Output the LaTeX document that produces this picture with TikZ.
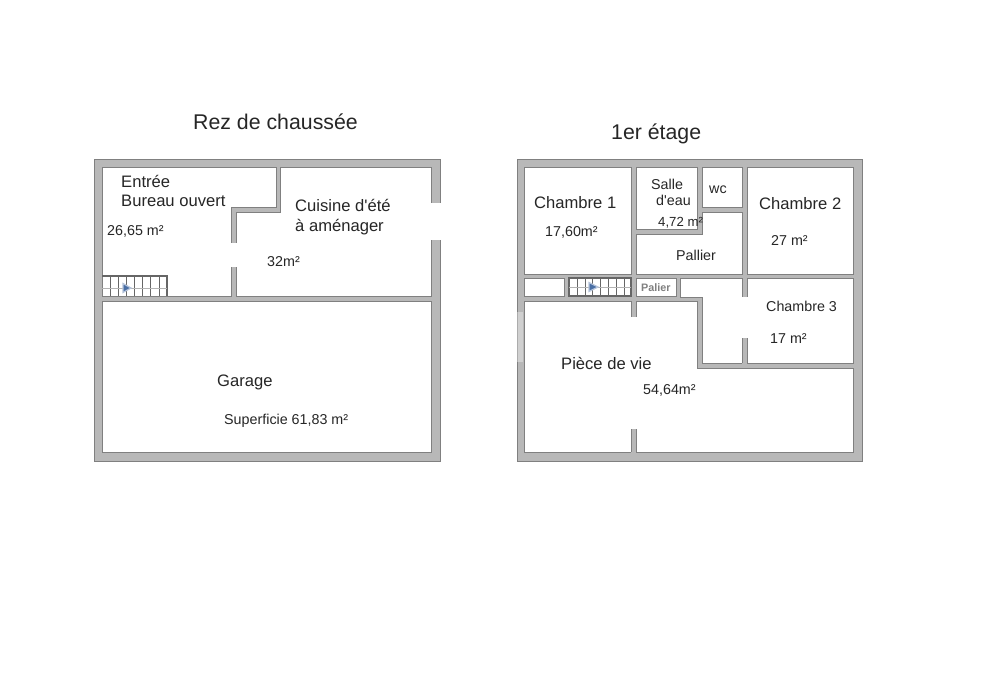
\documentclass[tikz,border=0pt]{standalone}
\usepackage{fontspec}
\setmainfont{Liberation Sans}[Ligatures=TeXOff]
\definecolor{wallc}{HTML}{B8B8B8}
\definecolor{edgec}{HTML}{808080}
\definecolor{inkc}{HTML}{262626}
\definecolor{bluec}{HTML}{4A6FA5}
\tikzset{
  wallmass/.style={fill=wallc,draw=edgec,line width=0.8pt},
  room/.style={fill=white,draw=edgec,line width=0.9pt,line join=miter},
  stub/.style={fill=wallc,draw=none},
  stubedge/.style={draw=edgec,line width=0.9pt},
  gap/.style={fill=white,draw=none},
  stairline/.style={draw=edgec!80!black,line width=1pt},
  stairframe/.style={draw=edgec!80!black,line width=1.3pt},
  stairmid/.style={draw=edgec!60,line width=0.6pt},
  stairarrow/.style={fill=bluec,draw=bluec!40,line width=1.2pt},
  txt/.style={anchor=base west,inner sep=0pt,text=inkc},
  ttl/.style={txt,font=\fontsize{21.3}{24}\selectfont},
  big/.style={txt,font=\fontsize{16.6}{19}\selectfont},
  small/.style={txt,font=\fontsize{14.3}{15}\selectfont},
  snug/.style={txt,font=\fontsize{13.2}{15}\selectfont},
  tiny/.style={txt,font=\fontsize{10.8}{12}\bfseries\selectfont,text=black!50}
}
\begin{document}
\begin{tikzpicture}[x=1pt,y=-1pt]
\useasboundingbox (0,0) rectangle (1000,675);
% ---------- Rez de chaussee
\path[wallmass] (94,159) rectangle (440,461);
\path[room] (102,167) -- (276,167) -- (276,207) -- (231,207) -- (231,296) -- (102,296) -- cycle;
\path[room] (280,167) -- (431,167) -- (431,296) -- (236,296) -- (236,212) -- (280,212) -- cycle;
\path[room] (102,301) rectangle (431,452);
\path[gap] (230,243) rectangle (237,267);
\path[gap] (430,203) rectangle (441,240);
% stairs left
\path[stairframe] (102,276) -- (167,276) -- (167,296);
\foreach \xa in {110,118,126,134,142,150,159} \path[stairline] (\xa,276) -- (\xa,296);
\path[stairmid] (102,288) -- (167,288);
\path[stairarrow] (123,283.5) -- (131,288) -- (123,292.5) -- cycle;
% ---------- 1er etage
\path[wallmass] (517,159) rectangle (862,461);
\path[room] (524,167) rectangle (631,274);
\path[room] (636,167) rectangle (697,229);
\path[room] (702,167) rectangle (742,207);
\path[room] (636,234) -- (702,234) -- (702,212) -- (742,212) -- (742,274) -- (636,274) -- cycle;
\path[room] (747,167) rectangle (853,274);
\path[room] (524,278) rectangle (564,296);
\path[room] (569,278) rectangle (631,296);
\path[room] (636,278) rectangle (676,296);
\path[room] (680,278) -- (853,278) -- (853,363) -- (702,363) -- (702,297) -- (680,297) -- cycle;
\path[room] (524,301) -- (697,301) -- (697,368) -- (853,368) -- (853,452) -- (524,452) -- cycle;
% interior wall stubs
\path[stub] (631,300) rectangle (636,317);
\path[stubedge] (631,301) -- (631,317) (636,301) -- (636,317);
\path[stub] (631,429) rectangle (636,453);
\path[stubedge] (631,429) -- (631,452) (636,429) -- (636,452);
\path[stub] (742,277) rectangle (747,297);
\path[stubedge] (742,278) -- (742,297) (747,278) -- (747,297);
\path[stub] (742,338) rectangle (747,364);
\path[stubedge] (742,338) -- (742,363) (747,338) -- (747,363);
% washed-out part of the left wall
\path[fill=white,opacity=0.35] (517,312) rectangle (523,362);
% stairs right
\path[stairframe] (569,278) rectangle (631,296);
\foreach \xb in {577,585,592,600,608,616,624} \path[stairline] (\xb,278) -- (\xb,296);
\path[stairmid] (569,287) -- (631,287);
\path[stairarrow] (589,282.5) -- (598,287) -- (589,291.5) -- cycle;
% ---------- Labels
\node[ttl] (t1) at (193,129) {Rez de chaussée};
\node[ttl] (t2) at (611,139) {1er étage};
\node[big] (e1) at (121,187) {Entrée};
\node[big] (e2) at (121,206) {Bureau ouvert};
\node[small] (e3) at (107,235) {26,65 m²};
\node[big] (c1) at (295,211) {Cuisine d'été};
\node[big] (c2) at (295,231) {à aménager};
\node[small] (c3) at (267,266) {32m²};
\node[big] (g1) at (217,386) {Garage};
\node[small] (g2) at (224,424) {Superficie 61,83 m²};
\node[big] (r1) at (534,208) {Chambre 1};
\node[small] (r2) at (545,236) {17,60m²};
\node[small] (s1) at (651,189) {Salle};
\node[small] (s2) at (656,205) {d'eau};
\node[snug] (s3) at (658,226) {4,72 m²};
\node[small] (w1) at (709,193) {wc};
\node[small] (p1) at (676,260) {Pallier};
\node[big] (r3) at (759,209) {Chambre 2};
\node[small] (r4) at (771,245) {27 m²};
\node[tiny] (p2) at (641,291) {Palier};
\node[small] (r5) at (766,311) {Chambre 3};
\node[small] (r6) at (770,343) {17 m²};
\node[big] (v1) at (561,369) {Pièce de vie};
\node[small] (v2) at (643,394) {54,64m²};
\end{tikzpicture}
\end{document}
